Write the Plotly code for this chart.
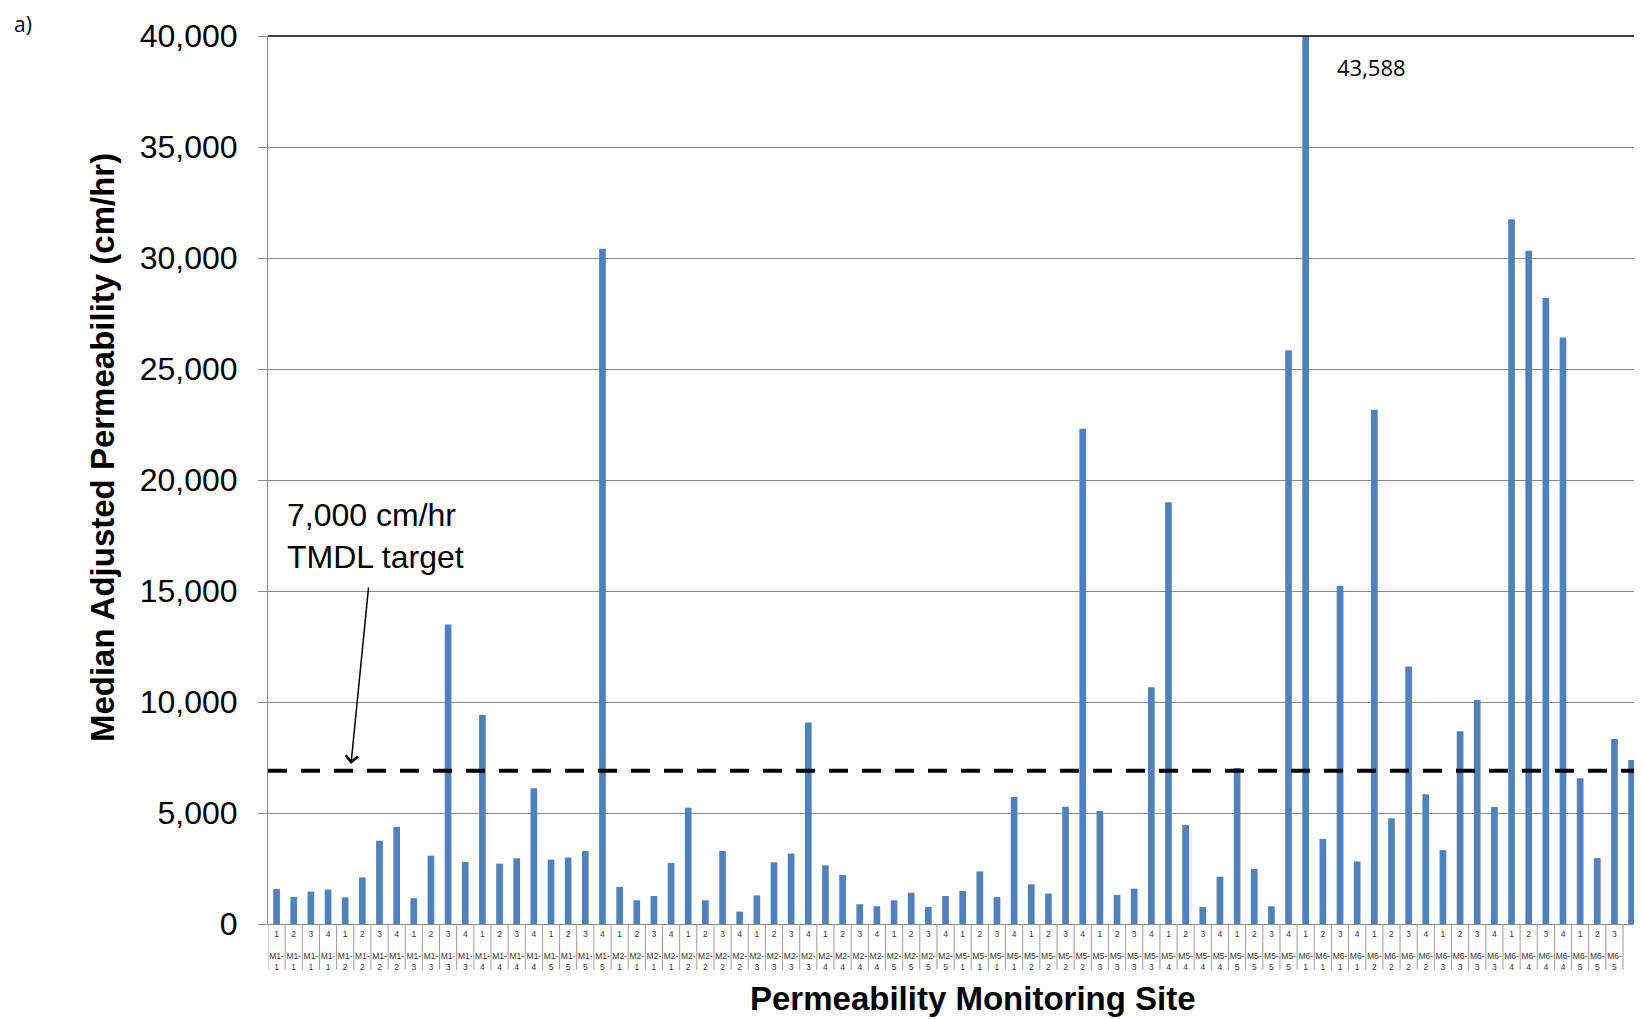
import plotly.graph_objects as go

# ---------------- data ----------------
sites = ["M1", "M2", "M5", "M6"]
sub_sites = ["1", "2", "3", "4", "5"]
positions = ["1", "2", "3", "4"]

permeability = [
    1580, 1220, 1460, 1550, 1200, 2100, 3750, 4380, 1160, 3080,
    13490, 2790, 9410, 2720, 2960, 6110, 2900, 2990, 3290, 30420,
    1670, 1070, 1260, 2750, 5240, 1070, 3290, 560, 1290, 2780,
    3170, 9080, 2640, 2210, 890, 800, 1070, 1410, 770, 1260,
    1490, 2370, 1220, 5720, 1790, 1370, 5280, 22310, 5090, 1310,
    1590, 10660, 19000, 4460, 770, 2130, 7030, 2480, 800, 25850,
    43588, 3830, 15240, 2820, 23160, 4760, 11600, 5840, 3330, 8680,
    10090, 5270, 31750, 30330, 28200, 26420, 6560, 2970, 8330, 7390,
]

target_line = 6900          # drawn position of the 7,000 cm/hr target line
clipped_label = "43,588"
y_ticks = [0, 5000, 10000, 15000, 20000, 25000, 30000, 35000, 40000]

# category labels built from the lists above
inner = [p for s in sites for ss in sub_sites for p in positions]
outer_site = [s for s in sites for ss in sub_sites for p in positions]
outer_sub = [ss for s in sites for ss in sub_sites for p in positions]
x_idx = list(range(len(permeability)))
tick_text = [f"{i}<br><br>{s}-<br>{ss}" for i, s, ss in zip(inner, outer_site, outer_sub)]

GRID = "#878787"
BLUE = "#4F81BD"

fig = go.Figure()
fig.add_trace(go.Bar(
    x=x_idx, y=permeability,
    marker=dict(color=BLUE, line=dict(width=0)),
    hoverinfo="skip",
))

fig.update_layout(
    width=1626, height=1011,
    margin=dict(l=260, r=0, t=28, b=95),
    plot_bgcolor="white", paper_bgcolor="white",
    bargap=0.61,
    showlegend=False,
    font=dict(family="Liberation Sans, Arial, sans-serif", color="black"),
)

fig.update_xaxes(
    range=[-0.5, 79.14],
    tickmode="array", tickvals=x_idx, ticktext=tick_text,
    tickangle=0,
    tickfont=dict(size=8.5, color="#333333"),
    showgrid=False, zeroline=False,
    showline=True, linecolor=GRID, linewidth=1,
    ticks="",
    ticklabelstandoff=2,
)
fig.update_yaxes(
    range=[0, 40000],
    tickmode="array", tickvals=y_ticks,
    tickformat=",",
    tickfont=dict(size=32, color="black"),
    showgrid=True, gridcolor=GRID, gridwidth=1,
    zeroline=False,
    showline=True, linecolor=GRID, linewidth=1,
    ticks="outside", ticklen=9, tickcolor=GRID,
    ticklabelstandoff=14,
)

shapes = []
# category divider marks below the axis
for i in range(len(permeability)):
    shapes.append(dict(type="line", xref="x", yref="paper",
                       x0=i - 0.5, x1=i - 0.5, y0=0, y1=-0.0515,
                       line=dict(color="#9a9a9a", width=1)))
# top border
shapes.append(dict(type="line", xref="paper", yref="paper", x0=0, x1=1, y0=1, y1=1,
                   line=dict(color="black", width=1.5)))
# TMDL target dashed line
shapes.append(dict(type="line", xref="paper", yref="y", x0=0, x1=1,
                   y0=target_line, y1=target_line,
                   line=dict(color="black", width=4, dash="19px,14px")))
fig.update_layout(shapes=shapes)

annotations = [
    dict(text="a)", xref="paper", yref="paper", x=-0.1874, y=1.0310,
         xanchor="left", yanchor="top", showarrow=False,
         font=dict(family="Open Sans", size=21, color="black")),
    dict(text="<b>Median Adjusted Permeability (cm/hr)</b>", xref="paper", yref="paper",
         x=-0.1215, y=0.536, textangle=-90, showarrow=False,
         xanchor="center", yanchor="middle", font=dict(size=33, color="black")),
    dict(text="<b>Permeability Monitoring Site</b>", xref="paper", yref="paper",
         x=0.516, y=-0.084, showarrow=False,
         xanchor="center", yanchor="middle", font=dict(size=33, color="black")),
    dict(text="7,000 cm/hr<br>TMDL target", xref="paper", yref="paper",
         x=0.01245, y=0.437, xanchor="left", yanchor="middle", align="left",
         showarrow=False, font=dict(size=32, color="black")),
    dict(text="", x=4.34, y=7207, ax=5.37, ay=15225, axref="x", ayref="y",
         xref="x", yref="y", showarrow=True, arrowhead=4, arrowsize=1.6,
         arrowwidth=1.5, arrowcolor="black"),
    dict(text=clipped_label, xref="paper", yref="paper", x=0.781, y=0.965,
         xanchor="left", yanchor="middle", showarrow=False,
         font=dict(family="Open Sans", size=22, color="black")),
]
fig.update_layout(annotations=annotations)

fig.write_html("out.html")
